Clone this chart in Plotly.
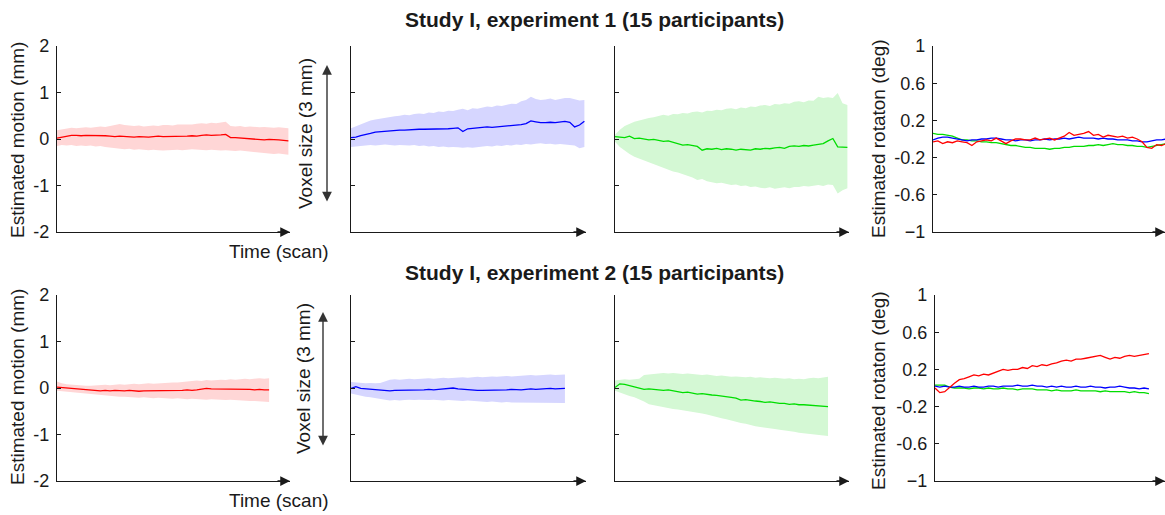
import plotly.graph_objects as go

# ---------------- data ----------------
SCAN_STEP = 6  # scans between stored samples
X_MAX = 290

# Experiment 1 (top row)
e1_x_mean = [0.02,0.04,0.07,0.08,0.08,0.07,0.08,0.08,0.07,0.08,0.07,0.06,0.05,0.06,0.05,0.05,0.04,0.05,0.04,0.04,0.05,0.06,0.05,0.05,0.06,0.05,0.06,0.06,0.07,0.06,0.08,0.09,0.08,0.08,0.09,0.10,0.03,0.03,0.02,0.02,0.01,0.00,-0.01,-0.02,-0.01,-0.01,-0.02,-0.03,-0.04]
e1_x_up = [0.19,0.21,0.22,0.24,0.23,0.24,0.25,0.24,0.26,0.27,0.26,0.28,0.31,0.32,0.30,0.29,0.28,0.29,0.27,0.28,0.29,0.28,0.30,0.30,0.29,0.31,0.31,0.32,0.31,0.33,0.34,0.33,0.35,0.34,0.36,0.37,0.28,0.27,0.28,0.26,0.27,0.26,0.25,0.26,0.25,0.24,0.25,0.24,0.23]
e1_x_lo = [-0.15,-0.13,-0.14,-0.13,-0.15,-0.14,-0.15,-0.14,-0.16,-0.15,-0.17,-0.19,-0.20,-0.21,-0.22,-0.21,-0.23,-0.22,-0.23,-0.24,-0.23,-0.24,-0.25,-0.25,-0.24,-0.23,-0.24,-0.23,-0.22,-0.23,-0.23,-0.24,-0.23,-0.24,-0.25,-0.24,-0.25,-0.26,-0.25,-0.26,-0.27,-0.28,-0.29,-0.30,-0.31,-0.32,-0.31,-0.33,-0.34]

e1_y_mean = [0.03,0.04,0.07,0.09,0.12,0.15,0.16,0.17,0.17,0.18,0.19,0.19,0.20,0.20,0.21,0.21,0.21,0.22,0.21,0.22,0.22,0.23,0.24,0.16,0.22,0.23,0.24,0.24,0.26,0.25,0.26,0.27,0.27,0.28,0.29,0.31,0.33,0.39,0.37,0.35,0.35,0.36,0.35,0.37,0.38,0.36,0.26,0.30,0.38]
e1_y_up = [0.23,0.27,0.31,0.36,0.40,0.42,0.44,0.46,0.47,0.49,0.50,0.52,0.51,0.54,0.55,0.54,0.57,0.56,0.59,0.58,0.61,0.60,0.63,0.65,0.62,0.66,0.65,0.68,0.70,0.69,0.72,0.71,0.74,0.76,0.75,0.81,0.84,0.91,0.86,0.84,0.85,0.87,0.84,0.86,0.88,0.88,0.85,0.83,0.84]
e1_y_lo = [-0.17,-0.16,-0.15,-0.14,-0.13,-0.14,-0.13,-0.12,-0.13,-0.14,-0.13,-0.13,-0.14,-0.13,-0.15,-0.14,-0.16,-0.15,-0.17,-0.16,-0.18,-0.17,-0.18,-0.19,-0.18,-0.19,-0.17,-0.16,-0.15,-0.16,-0.14,-0.15,-0.13,-0.14,-0.12,-0.13,-0.11,-0.12,-0.10,-0.09,-0.11,-0.10,-0.12,-0.11,-0.12,-0.13,-0.14,-0.20,-0.17]

e1_z_mean = [0.05,0.04,0.03,0.06,0.01,0.02,0.00,-0.02,-0.01,-0.03,-0.05,-0.04,-0.07,-0.10,-0.13,-0.12,-0.14,-0.16,-0.24,-0.21,-0.22,-0.20,-0.23,-0.21,-0.22,-0.24,-0.22,-0.23,-0.24,-0.21,-0.22,-0.20,-0.21,-0.19,-0.18,-0.20,-0.16,-0.15,-0.16,-0.14,-0.15,-0.13,-0.12,-0.10,-0.04,0.01,-0.17,-0.17,-0.18]
e1_z_up = [0.09,0.20,0.28,0.33,0.37,0.40,0.43,0.45,0.47,0.50,0.52,0.50,0.54,0.53,0.56,0.55,0.58,0.59,0.57,0.61,0.60,0.63,0.62,0.65,0.66,0.64,0.68,0.66,0.70,0.69,0.72,0.73,0.71,0.75,0.74,0.77,0.76,0.80,0.81,0.79,0.83,0.82,0.91,0.88,0.90,0.88,0.99,0.77,0.73]
e1_z_lo = [-0.06,-0.17,-0.25,-0.32,-0.38,-0.42,-0.47,-0.50,-0.55,-0.58,-0.63,-0.66,-0.70,-0.72,-0.76,-0.79,-0.83,-0.88,-0.86,-0.91,-0.93,-0.95,-0.94,-0.97,-0.99,-0.98,-1.01,-1.00,-1.03,-1.02,-1.05,-1.06,-1.04,-1.07,-1.05,-1.04,-1.06,-1.03,-1.03,-1.01,-1.02,-1.00,-0.99,-1.01,-0.98,-0.99,-1.17,-1.10,-1.06]

e1_rot_red = [-0.03,-0.02,-0.05,-0.03,-0.04,-0.02,-0.03,-0.04,-0.07,-0.03,-0.02,-0.01,-0.02,0.01,-0.02,-0.05,-0.02,0.00,0.00,-0.01,-0.01,0.01,-0.01,0.00,0.01,-0.01,0.01,0.03,0.07,0.04,0.05,0.06,0.08,0.04,0.05,0.02,0.04,0.03,0.02,0.03,0.01,0.02,0.00,-0.03,-0.09,-0.10,-0.06,-0.07,-0.05]
e1_rot_green = [0.06,0.05,0.05,0.04,0.03,0.01,-0.01,-0.01,-0.02,-0.02,-0.03,-0.03,-0.04,-0.04,-0.05,-0.06,-0.07,-0.07,-0.08,-0.09,-0.09,-0.10,-0.10,-0.10,-0.11,-0.10,-0.10,-0.09,-0.09,-0.08,-0.08,-0.08,-0.07,-0.07,-0.06,-0.07,-0.06,-0.05,-0.06,-0.06,-0.07,-0.07,-0.08,-0.08,-0.09,-0.08,-0.07,-0.06,-0.05]
e1_rot_blue = [-0.01,0.01,0.02,0.02,0.01,0.00,-0.01,-0.02,-0.01,-0.01,0.00,0.00,0.01,0.01,0.00,-0.01,-0.01,-0.02,-0.01,-0.01,-0.02,-0.01,-0.01,0.00,-0.01,0.00,0.00,0.01,0.00,0.01,0.02,0.01,0.01,0.01,0.00,0.01,0.00,0.00,-0.01,-0.01,-0.01,-0.02,-0.02,-0.03,-0.03,-0.02,-0.01,-0.01,0.00]

# Experiment 2 (bottom row)
e2_x_mean = [0.02,0.01,0.00,-0.01,-0.02,-0.03,-0.04,-0.04,-0.05,-0.06,-0.05,-0.06,-0.05,-0.06,-0.06,-0.05,-0.06,-0.07,-0.06,-0.06,-0.05,-0.06,-0.06,-0.06,-0.05,-0.05,-0.05,-0.04,-0.05,-0.04,-0.03,-0.01,-0.02,-0.02,-0.03,-0.02,-0.03,-0.03,-0.02,-0.03,-0.03,-0.04,-0.03,-0.04,-0.04]
e2_x_up = [0.14,0.10,0.08,0.07,0.06,0.05,0.05,0.05,0.06,0.06,0.07,0.06,0.07,0.08,0.07,0.08,0.09,0.08,0.09,0.10,0.09,0.10,0.11,0.11,0.12,0.12,0.13,0.14,0.15,0.16,0.15,0.17,0.16,0.17,0.18,0.17,0.19,0.18,0.19,0.20,0.19,0.20,0.21,0.20,0.21]
e2_x_lo = [-0.06,-0.07,-0.08,-0.09,-0.10,-0.11,-0.12,-0.13,-0.15,-0.16,-0.17,-0.18,-0.18,-0.19,-0.19,-0.20,-0.20,-0.21,-0.20,-0.21,-0.22,-0.21,-0.22,-0.22,-0.23,-0.22,-0.23,-0.24,-0.23,-0.24,-0.24,-0.25,-0.24,-0.25,-0.25,-0.26,-0.25,-0.26,-0.27,-0.27,-0.28,-0.28,-0.29,-0.29,-0.30]

e2_y_mean = [-0.01,0.03,-0.01,-0.02,-0.03,-0.04,-0.05,-0.05,-0.06,-0.05,-0.05,-0.04,-0.05,-0.04,-0.04,-0.04,-0.03,-0.04,-0.03,-0.02,-0.01,0.00,-0.02,-0.03,-0.04,-0.05,-0.05,-0.05,-0.05,-0.04,-0.05,-0.04,-0.04,-0.03,-0.04,-0.04,-0.03,-0.02,-0.03,-0.02,-0.02,-0.01,-0.02,-0.01,-0.01]
e2_y_up = [0.13,0.12,0.11,0.10,0.11,0.10,0.11,0.14,0.18,0.19,0.18,0.19,0.20,0.19,0.20,0.20,0.21,0.20,0.21,0.22,0.21,0.22,0.22,0.23,0.22,0.23,0.24,0.23,0.24,0.25,0.24,0.25,0.26,0.25,0.26,0.27,0.27,0.28,0.27,0.28,0.28,0.29,0.28,0.29,0.29]
e2_y_lo = [-0.12,-0.15,-0.17,-0.19,-0.20,-0.22,-0.23,-0.25,-0.27,-0.26,-0.27,-0.26,-0.25,-0.26,-0.25,-0.25,-0.26,-0.25,-0.26,-0.27,-0.26,-0.27,-0.27,-0.28,-0.27,-0.28,-0.29,-0.29,-0.30,-0.29,-0.30,-0.31,-0.30,-0.31,-0.31,-0.32,-0.31,-0.32,-0.32,-0.31,-0.32,-0.32,-0.31,-0.32,-0.32]

e2_z_mean = [0.01,0.09,0.08,0.05,0.02,0.00,-0.03,-0.02,-0.03,-0.04,-0.05,-0.04,-0.06,-0.07,-0.10,-0.09,-0.11,-0.13,-0.12,-0.14,-0.15,-0.16,-0.17,-0.19,-0.20,-0.22,-0.26,-0.25,-0.27,-0.28,-0.29,-0.31,-0.30,-0.32,-0.33,-0.33,-0.35,-0.34,-0.36,-0.36,-0.37,-0.38,-0.38,-0.39,-0.40]
e2_z_up = [0.16,0.18,0.19,0.18,0.19,0.20,0.28,0.29,0.30,0.31,0.32,0.31,0.32,0.31,0.30,0.31,0.30,0.29,0.28,0.29,0.27,0.26,0.27,0.25,0.24,0.25,0.24,0.23,0.24,0.22,0.23,0.22,0.21,0.22,0.21,0.20,0.21,0.19,0.20,0.19,0.21,0.22,0.21,0.23,0.24]
e2_z_lo = [-0.06,-0.10,-0.13,-0.17,-0.20,-0.24,-0.29,-0.35,-0.37,-0.40,-0.42,-0.43,-0.45,-0.46,-0.48,-0.50,-0.51,-0.53,-0.55,-0.57,-0.60,-0.62,-0.65,-0.67,-0.70,-0.72,-0.75,-0.77,-0.79,-0.82,-0.84,-0.85,-0.87,-0.88,-0.90,-0.91,-0.93,-0.94,-0.96,-0.97,-0.98,-1.00,-1.01,-1.02,-1.03]

e2_rot_red = [0.00,-0.05,-0.04,0.01,0.05,0.09,0.10,0.12,0.14,0.13,0.15,0.14,0.16,0.18,0.20,0.19,0.20,0.20,0.22,0.21,0.24,0.23,0.25,0.24,0.26,0.27,0.29,0.30,0.29,0.31,0.31,0.32,0.33,0.34,0.35,0.33,0.31,0.33,0.32,0.34,0.35,0.34,0.35,0.36,0.37]
e2_rot_blue = [0.02,0.01,0.02,0.01,0.01,0.02,0.01,0.01,0.02,0.01,0.01,0.02,0.02,0.01,0.02,0.02,0.02,0.03,0.02,0.02,0.03,0.02,0.02,0.01,0.02,0.01,0.02,0.01,0.01,0.02,0.01,0.01,0.02,0.01,0.01,0.00,0.01,0.01,0.02,0.01,0.00,0.00,-0.01,0.00,-0.01]
e2_rot_green = [0.03,0.03,0.03,0.01,0.00,0.00,0.00,-0.01,0.00,0.00,-0.01,0.00,-0.01,-0.01,0.00,-0.01,-0.01,-0.02,-0.01,-0.01,-0.01,-0.02,-0.02,-0.02,-0.03,-0.02,-0.03,-0.03,-0.03,-0.02,-0.03,-0.03,-0.03,-0.03,-0.04,-0.03,-0.04,-0.04,-0.04,-0.04,-0.05,-0.04,-0.05,-0.05,-0.06]

titles = ["Study I, experiment 1 (15 participants)", "Study I, experiment 2 (15 participants)"]
motion_ticks = [-2, -1, 0, 1, 2]
motion_ticktext = ["-2", "-1", "0", "1", "2"]
rot_ticks = [-1, -0.6, -0.2, 0.2, 0.6, 1]
rot_ticktext = ["\u22121", "-0.6", "-0.2", "0.2", "0.6", "1"]

# ---------------- styling ----------------
W, H = 1165, 515
FONT = "Liberation Sans, Arial, sans-serif"
INK = "#1a1a1a"
RED, BLUE, GREEN = "#ff0000", "#0000ff", "#00dd00"
RED_B, BLUE_B, GREEN_B = "#ffd6d6", "#d6d6ff", "#d4f8d4"
PANEL_PX = 235  # full time-axis length in pixels (rightmost panel is cut by the edge)


def px_x(p):
    return p / W


def px_y(p):
    return 1 - p / H


def aid(k):
    return "" if k == 1 else str(k)


x_dom_rows = [
    [(57, 290), (351, 586), (615, 849), (933, 1165)],
    [(57, 290), (351, 586), (615, 849), (935, 1165)],
]
y_dom_rows = [(46, 232), (295, 481)]

fig = go.Figure()


def scans(vals):
    return [SCAN_STEP * i for i in range(len(vals))]


def add_band(lo, up, color, k):
    x = scans(lo)
    fig.add_trace(go.Scatter(x=x + x[::-1], y=up + lo[::-1], fill="toself",
                             fillcolor=color, line=dict(width=0), mode="lines",
                             hoverinfo="skip", showlegend=False,
                             xaxis="x" + aid(k), yaxis="y" + aid(k)))


def add_line(vals, color, k):
    fig.add_trace(go.Scatter(x=scans(vals), y=vals, mode="lines",
                             line=dict(color=color, width=1.3),
                             showlegend=False, xaxis="x" + aid(k), yaxis="y" + aid(k)))


rows = [
    dict(x=(e1_x_mean, e1_x_lo, e1_x_up), y=(e1_y_mean, e1_y_lo, e1_y_up),
         z=(e1_z_mean, e1_z_lo, e1_z_up), rot=(e1_rot_red, e1_rot_green, e1_rot_blue)),
    dict(x=(e2_x_mean, e2_x_lo, e2_x_up), y=(e2_y_mean, e2_y_lo, e2_y_up),
         z=(e2_z_mean, e2_z_lo, e2_z_up), rot=(e2_rot_red, e2_rot_green, e2_rot_blue)),
]

annotations = []
layout_axes = {}
for r, row in enumerate(rows):
    base = 4 * r
    for j, (key, lc, bc) in enumerate([("x", RED, RED_B), ("y", BLUE, BLUE_B), ("z", GREEN, GREEN_B)]):
        k = base + j + 1
        mean, lo, up = row[key]
        add_band(lo, up, bc, k)
        add_line(mean, lc, k)
    k = base + 4
    red, green, blue = row["rot"]
    add_line(green, GREEN, k)
    add_line(blue, BLUE, k)
    add_line(red, RED, k)

    y0, y1 = y_dom_rows[r]
    for j in range(4):
        k = base + j + 1
        x0, x1 = x_dom_rows[r][j]
        xmax = X_MAX if j < 3 else X_MAX * (x1 - x0) / PANEL_PX
        layout_axes["xaxis" + aid(k)] = dict(domain=[px_x(x0), px_x(x1)], range=[0, xmax],
                                             anchor="y" + aid(k), showline=True, linecolor=INK,
                                             linewidth=1.2, showgrid=False, zeroline=False,
                                             showticklabels=False, ticks="", fixedrange=True,
                                             automargin=False)
        if j < 3:
            yt = dict(range=[-2, 2], tickvals=motion_ticks, ticktext=motion_ticktext,
                      showticklabels=(j == 0))
        else:
            yt = dict(range=[-1, 1], tickvals=rot_ticks, ticktext=rot_ticktext,
                      showticklabels=True)
        layout_axes["yaxis" + aid(k)] = dict(domain=[px_y(y1), px_y(y0)], anchor="x" + aid(k),
                                             showline=True, linecolor=INK, linewidth=1.2,
                                             ticks="inside", ticklen=4, tickcolor=INK, tickwidth=1,
                                             showgrid=False, zeroline=False, fixedrange=True,
                                             ticklabelstandoff=3, automargin=False,
                                             tickfont=dict(family=FONT, size=18, color=INK), **yt)
        annotations.append(dict(x=1, y=0, xref="x" + aid(k) + " domain", yref="y" + aid(k) + " domain",
                                ax=-14, ay=0, axref="pixel", ayref="pixel", text="",
                                showarrow=True, arrowhead=2, arrowsize=1.5,
                                arrowwidth=1.3, arrowcolor=INK))

for t, yc in zip(titles, [20, 272]):
    annotations.append(dict(x=px_x(594), y=px_y(yc), xref="paper", yref="paper",
                            text=f"<b>{t}</b>", showarrow=False, xanchor="center",
                            yanchor="middle", font=dict(family=FONT, size=21, color=INK)))

labels = [
    ("Estimated motion (mm)", 17, 140), ("Estimated motion (mm)", 17, 387),
    ("Voxel size (3 mm)", 305, 134), ("Voxel size (3 mm)", 303, 379),
    ("Estimated rotaton (deg)", 878, 139), ("Estimated rotaton (deg)", 878, 391),
]
for text, xc, yc in labels:
    annotations.append(dict(x=px_x(xc), y=px_y(yc), xref="paper", yref="paper",
                            text=text, showarrow=False, textangle=-90,
                            xanchor="center", yanchor="middle",
                            font=dict(family=FONT, size=19, color=INK)))
for yc in [251, 500]:
    annotations.append(dict(x=px_x(279), y=px_y(yc), xref="paper", yref="paper",
                            text="Time (scan)", showarrow=False, xanchor="center",
                            yanchor="middle", font=dict(family=FONT, size=19, color=INK)))

for xc, ytop, ybot in [(327, 65, 203), (323, 312, 447)]:
    annotations.append(dict(x=px_x(xc), y=px_y(ytop), xref="paper", yref="paper",
                            ax=0, ay=ybot - ytop, axref="pixel", ayref="pixel", text="",
                            showarrow=True, arrowhead=2, startarrowhead=2,
                            arrowside="end+start", arrowsize=1.4, startarrowsize=1.4,
                            arrowwidth=1.4, arrowcolor="#333333"))

fig.update_layout(width=W, height=H, autosize=False,
                  margin=dict(l=0, r=0, t=0, b=0, autoexpand=False),
                  paper_bgcolor="white", plot_bgcolor="white",
                  showlegend=False, annotations=annotations, **layout_axes)

fig.write_html("out.html", config={"displayModeBar": False},
               post_script="document.body.style.margin='0px';document.body.style.overflow='hidden';")
